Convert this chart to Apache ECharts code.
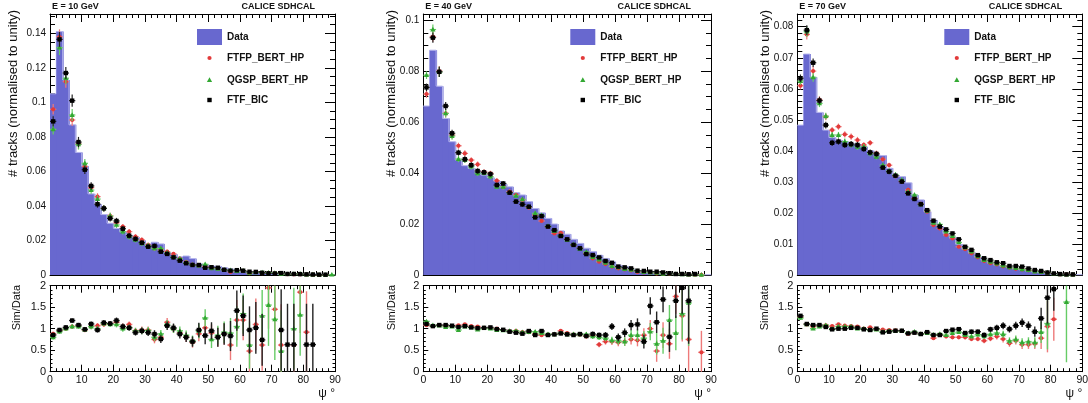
<!DOCTYPE html>
<html><head><meta charset="utf-8">
<script src="https://cdn.jsdelivr.net/npm/echarts@6/dist/echarts.min.js"></script>
<style>html,body{margin:0;padding:0;background:#fff}#c{width:1088px;height:403px}</style>
</head><body><div id="c"></div>
<script>
// bin centres (degrees), 2-degree bins from 0 to 90
const centers = [1,3,5,7,9,11,13,15,17,19,21,23,25,27,29,31,33,35,37,39,41,43,45,47,49,51,53,55,57,59,61,63,65,67,69,71,73,75,77,79,81,83,85,87,89];

// ---------- E = 10 GeV ----------
const data10 = [0.105,0.141,0.113,0.087,0.071,0.063,0.047,0.041,0.035,0.030,
 0.027,0.025,0.023,0.022,0.020,0.018,0.019,0.018,0.013,0.012,
 0.0105,0.011,0.0095,0.0065,0.006,0.0052,0.005,0.0042,0.0035,0.002,
 0.0019,0.002,0.0015,0.0013,0.0013,0.0011,0.0008,0.0009,0.0007,0.0006,
 0.0005,0.0006,0.0004,0.0003,0.0002];
const ftfp10 = [0.096,0.138,0.112,0.0898,0.0759,0.0628,0.0506,0.0454,0.0386,0.0342,
 0.0303,0.028,0.0251,0.0222,0.0203,0.0174,0.0154,0.0145,0.0135,0.0122,
 0.0095,0.0075,0.006,0.0055,0.005,0.004,0.0038,0.003,0.0018,0.0025,
 0.0024,0.001,0.0017,0.0011,0.0012,0.001,0.0006,0.0005,0.0004,0.0004,
 0.0003,0.0002,0.0001,0,null];
const qgsp10 = [0.0844,0.1317,0.114,0.0927,0.0757,0.0647,0.0492,0.044,0.0386,0.0342,
 0.029,0.0251,0.0222,0.0203,0.0183,0.017,0.0154,0.0154,0.0128,0.0105,
 0.0095,0.0072,0.006,0.0055,0.0062,0.0038,0.0035,0.003,0.0028,0.0022,
 0.0025,0.0013,0.0015,0.0015,0.0014,0.0012,0.0005,0.0005,0.0006,0.0007,
 0.0003,0.0003,0.0002,0.0001,0.0002];
const ftf10 = [0.089,0.1365,0.117,0.101,0.077,0.061,0.0516,0.041,0.0386,0.0328,
 0.0313,0.0268,0.0228,0.0209,0.0187,0.0164,0.0168,0.0135,0.0122,0.0102,
 0.0083,0.0068,0.0058,0.0058,0.0042,0.0045,0.0042,0.003,0.0025,0.0028,
 0.0025,0.0019,0.0018,0.0013,0.001,0.0009,0.0011,0.0006,0.0006,0.0005,
 0.0004,0.0003,0.0002,0.0002,null];
const errTop10 = [0.003,0.0043,0.0035,0.0035,0.003,0.0025,0.0022,0.002,0.0018,0.0018,
 0.0018,0.0016,0.0016,0.0015,0.0015,0.0014,0.0014,0.0013,0.0012,0.0012,
 0.0011,0.001,0.001,0.0009,0.0009,0.0008,0.0008,0.0007,0.0007,0.0007,
 0.0006,0.0006,0.0005,0.0005,0.0005,0.0004,0.0004,0.0004,0.0004,0.0003,
 0.0003,0.0003,0.0003,0.0002,0.0002];
const rFtfp10 = [0.88,0.95,1.0,1.05,1.06,0.97,1.05,1.07,1.1,1.12,
 1.15,1.05,1.1,0.95,0.97,0.97,0.75,0.8,1.15,1.0,
 0.9,0.8,0.68,0.88,1.02,0.9,0.8,0.88,0.62,1.2,
 1.2,0.48,1.1,0.62,1.95,1.45,0.62,null,0.62,1.85,
 0.92,null,null,null,null];
const rQgsp10 = [0.8,0.93,1.0,1.05,1.05,0.98,1.05,1.0,1.12,1.1,
 1.1,1.0,1.03,0.95,0.95,0.96,0.8,0.88,1.1,1.0,
 0.95,0.85,0.72,0.95,1.25,0.75,0.85,0.92,0.9,1.05,
 1.35,0.62,null,1.3,1.55,1.22,0.48,null,1.0,1.32,
 null,null,null,null,null];
const rFtf10 = [0.853,0.97,1.03,1.19,1.085,0.985,1.11,0.97,1.14,1.12,
 1.19,1.05,1.02,0.91,0.95,0.91,0.875,0.76,1.07,1.02,
 0.875,0.8,0.7,0.97,0.84,0.95,0.8,0.875,0.83,1.42,
 1.3,0.97,1.02,0.74,null,null,0.97,0.63,0.63,null,
 0.63,0.63,null,null,null];
const rErr10 = [0.05,0.05,0.05,0.05,0.05,0.05,0.06,0.06,0.06,0.06,
 0.07,0.07,0.07,0.07,0.08,0.08,0.09,0.09,0.1,0.1,
 0.1,0.11,0.12,0.17,0.2,0.2,0.22,0.25,0.35,0.47,
 0.47,0.55,0.6,0.6,0.95,0.95,0.95,0.95,0.95,0.95,
 0.95,0.95,0.95,0.95,0.95];

// ---------- E = 40 GeV ----------
const data40 = [0.0663,0.0882,0.0741,0.0614,0.0523,0.0451,0.0429,0.0418,0.0405,0.0392,
 0.0382,0.0369,0.0356,0.0346,0.0323,0.0314,0.0288,0.0261,0.0244,0.0222,
 0.02,0.0173,0.016,0.014,0.0124,0.0105,0.0092,0.0078,0.0065,0.0052,
 0.0039,0.0033,0.0022,0.0018,0.0014,0.0011,0.0009,0.0007,0.0005,0.0004,
 0.0003,0.0002,0.00015,0.0001,0.0001];
const ftfp40 = [0.071,0.0935,0.08,0.0634,0.0549,0.0507,0.0477,0.0451,0.0434,0.0405,
 0.0399,0.037,0.0346,0.0327,0.0314,0.0294,0.0265,0.0235,0.0212,0.019,
 0.0163,0.0165,0.014,0.0118,0.0105,0.0085,0.0065,0.0052,0.0043,0.0033,
 0.0026,0.0022,0.0018,0.0012,0.001,0.001,0.0006,0.0005,0.0005,0.0004,
 0.0004,0.0002,0.0001,0.0001,null];
const qgsp40 = [0.0784,0.0963,0.0797,0.0634,0.0545,0.0455,0.0451,0.0425,0.0399,0.04,
 0.0386,0.0346,0.0346,0.0323,0.0311,0.0297,0.0268,0.0242,0.0235,0.0192,
 0.0172,0.0155,0.0138,0.012,0.0103,0.009,0.007,0.006,0.0048,0.0035,
 0.003,0.0023,0.002,0.0015,0.0011,0.0009,0.0008,0.0005,0.0006,0.0004,
 0.0003,0.0002,0.0002,0.0001,null];
const ftf40 = [0.0736,0.0931,0.0797,0.0663,0.0556,0.048,0.0454,0.0431,0.0408,0.0403,
 0.0396,0.0353,0.0359,0.0323,0.0288,0.0277,0.0268,0.0226,0.0231,0.019,
 0.0176,0.0153,0.014,0.0118,0.0105,0.0082,0.0078,0.0069,0.0055,0.0048,
 0.0033,0.003,0.0026,0.0017,0.0016,0.0013,0.0013,0.001,0.0007,0.0004,
 0.0004,0.0003,0.0004,null,null];
const errTop40 = [0.0015,0.002,0.002,0.0016,0.0014,0.0012,0.0012,0.0011,0.0011,0.001,
 0.001,0.001,0.001,0.0009,0.0009,0.0009,0.0008,0.0008,0.0008,0.0007,
 0.0007,0.0006,0.0006,0.0006,0.0005,0.0005,0.0005,0.0004,0.0004,0.0004,
 0.0003,0.0003,0.0003,0.0003,0.0002,0.0002,0.0002,0.0002,0.0002,0.0002,
 0.0001,0.0001,0.0001,0.0001,0.0001];
const rFtfp40 = [1.08,1.06,1.08,1.06,1.06,1.08,1.1,1.06,1.05,1.02,
 1.02,1.0,0.97,0.94,0.95,0.92,0.92,0.88,0.85,0.86,
 0.87,0.95,0.9,0.86,0.86,0.82,0.84,0.63,0.7,0.7,
 0.68,0.7,0.75,0.73,0.85,1.0,0.48,0.85,0.65,1.75,
 1.3,0.75,null,0.45,null];
const rQgsp40 = [1.17,1.08,1.07,1.04,1.05,0.97,1.05,1.03,0.98,1.02,
 1.0,0.97,0.96,0.95,0.95,0.92,0.92,0.93,0.9,0.87,
 0.87,0.9,0.87,0.87,0.87,0.87,0.82,0.8,0.78,0.73,
 0.72,0.7,0.85,0.85,0.78,0.93,0.65,0.72,1.2,0.9,
 1.35,1.6,null,null,null];
const rFtf40 = [1.11,1.06,1.085,1.085,1.07,1.04,1.06,1.03,1.015,1.02,
 1.03,0.99,0.975,0.93,0.907,0.884,0.946,0.853,0.946,0.853,
 0.868,0.89,0.868,0.853,0.876,0.83,0.876,0.853,0.853,1.05,
 0.8,0.907,1.085,1.1,0.7,1.53,1.15,1.68,0.81,1.65,
 1.95,1.65,null,null,null];
const rErr40 = [0.03,0.03,0.03,0.03,0.03,0.03,0.03,0.03,0.03,0.03,
 0.03,0.03,0.03,0.03,0.03,0.03,0.03,0.035,0.035,0.04,
 0.04,0.04,0.045,0.045,0.05,0.05,0.06,0.06,0.07,0.08,
 0.09,0.1,0.12,0.14,0.16,0.2,0.25,0.3,0.35,0.4,
 0.6,1.0,0.9,0.5,0.9];

// ---------- E = 70 GeV ----------
const data70 = [0.0483,0.0712,0.0637,0.0524,0.0467,0.0443,0.0435,0.043,0.0424,0.0421,
 0.0413,0.04,0.0387,0.0385,0.0344,0.0322,0.0317,0.0297,0.0258,0.0242,
 0.0204,0.0177,0.0156,0.0134,0.0121,0.0099,0.0083,0.0073,0.0059,0.0048,
 0.004,0.0032,0.0028,0.0024,0.002,0.0017,0.0013,0.001,0.0008,0.0006,
 0.0004,0.0003,0.0002,0.0001,0.0001];
const ftfp70 = [0.061,0.0775,0.0657,0.0564,0.051,0.0467,0.0478,0.0453,0.0446,0.0435,
 0.0419,0.0426,0.0392,0.0373,0.0354,0.0319,0.0301,0.0274,0.0247,0.0229,
 0.0204,0.0161,0.015,0.0129,0.0118,0.0091,0.0083,0.007,0.0057,0.0045,
 0.0038,0.0034,0.0028,0.0024,0.002,0.0018,0.0015,0.0012,0.0009,0.0007,
 0.0004,0.0002,0.0002,0.0001,null];
const qgsp70 = [0.0625,0.0784,0.0637,0.0553,0.0512,0.0451,0.0451,0.043,0.042,0.0413,
 0.0413,0.0392,0.0381,0.0354,0.0335,0.0323,0.0306,0.0268,0.0258,0.0228,
 0.0207,0.0168,0.0163,0.014,0.0125,0.0105,0.0088,0.0075,0.006,0.0048,
 0.0042,0.0037,0.003,0.0025,0.0022,0.0018,0.0016,0.0011,0.0009,0.0008,
 0.0004,0.0002,0.0001,0.0001,null];
const ftf70 = [0.0634,0.0789,0.0684,0.0562,0.0483,0.0426,0.043,0.0419,0.0422,0.0419,
 0.0406,0.0395,0.039,0.0346,0.0333,0.032,0.0301,0.0263,0.0245,0.0228,
 0.0209,0.0175,0.0156,0.0147,0.0134,0.0115,0.0091,0.0081,0.0064,0.0054,
 0.0048,0.0041,0.0038,0.0029,0.0029,0.0027,0.0021,0.0016,0.0013,0.0008,
 0.0005,0.0003,0.0002,0.0002,null];
const errTop70 = [0.0012,0.0016,0.0014,0.0012,0.0011,0.001,0.001,0.001,0.001,0.001,
 0.0009,0.0009,0.0009,0.0008,0.0008,0.0008,0.0008,0.0007,0.0007,0.0007,
 0.0006,0.0006,0.0006,0.0005,0.0005,0.0005,0.0004,0.0004,0.0004,0.0003,
 0.0003,0.0003,0.0003,0.0002,0.0002,0.0002,0.0002,0.0002,0.0002,0.0001,
 0.0001,0.0001,0.0001,0.0001,0.0001];
const rFtfp70 = [1.27,1.1,1.05,1.06,1.08,1.06,1.1,1.07,1.06,1.05,
 1.0,1.03,0.99,0.98,0.97,0.96,0.95,0.88,0.91,0.88,
 0.9,0.78,0.86,0.82,0.8,0.8,0.8,0.76,0.76,0.72,
 0.77,0.82,0.76,0.66,0.72,0.63,0.63,0.65,0.78,1.05,
 1.22,null,null,null,null];
const rQgsp70 = [1.25,1.1,1.0,1.05,1.08,1.0,1.05,1.05,1.05,1.0,
 1.0,0.97,0.98,0.93,0.95,0.95,0.95,0.9,0.93,0.88,
 0.9,0.86,0.88,0.85,0.9,0.92,0.85,0.82,0.86,0.82,
 0.87,0.9,0.87,0.72,0.75,0.68,0.7,0.68,0.92,1.12,
 null,null,1.62,null,null];
const rFtf70 = [1.3,1.11,1.085,1.085,1.04,0.985,1.0,1.0,1.02,1.02,
 0.985,0.97,1.0,0.915,0.93,0.953,0.953,0.89,0.907,0.876,
 0.92,0.853,0.853,0.946,0.977,0.99,0.9,0.93,0.93,0.853,
 0.985,1.02,1.07,0.99,1.07,1.14,1.07,0.93,1.24,1.72,
 1.92,null,null,null,null];
const rErr70 = [0.04,0.03,0.03,0.03,0.03,0.03,0.03,0.03,0.03,0.03,
 0.03,0.03,0.03,0.03,0.03,0.03,0.03,0.03,0.03,0.03,
 0.03,0.035,0.035,0.04,0.04,0.04,0.045,0.05,0.05,0.06,
 0.06,0.07,0.08,0.08,0.09,0.1,0.1,0.12,0.25,0.6,
 0.5,0.6,1.4,0.8,0.8];

// ---------- labels ----------
const energyLabels = ['E = 10 GeV', 'E = 40 GeV', 'E = 70 GeV'];
const experimentLabel = 'CALICE SDHCAL';
const legendNames = ['Data', 'FTFP_BERT_HP', 'QGSP_BERT_HP', 'FTF_BIC'];
const yTitleTop = '# tracks (normalised to unity)';
const yTitleRatio = 'Sim/Data';
const xTitle = 'ψ °';

// ---------- layout / style ----------
const FONT = "'Liberation Sans', Arial, Helvetica, sans-serif";
const COL = { data: '#6868cf', dataEdge: '#b4b4ec', red: '#e23a3a', redErr: '#ee7a7a',
  green: '#33a833', greenErr: '#66cc66', black: '#000000', blackErr: '#222222' };
const panels = [
  { left: 50, width: 285, ymax: 0.1512, yint: 0.02, ysplit: 4, titleX: 13, ratioTitleX: 16.7,
    data: data10, sims: [ftfp10, qgsp10, ftf10], err: errTop10, ratios: [rFtfp10, rQgsp10, rFtf10], rerr: rErr10 },
  { left: 423.3, width: 287.7, ymax: 0.1024, yint: 0.02, ysplit: 4, titleX: 391.7, ratioTitleX: 391.7,
    data: data40, sims: [ftfp40, qgsp40, ftf40], err: errTop40, ratios: [rFtfp40, rQgsp40, rFtf40], rerr: rErr40 },
  { left: 797.3, width: 285, ymax: 0.0841, yint: 0.01, ysplit: 5, titleX: 765, ratioTitleX: 765,
    data: data70, sims: [ftfp70, qgsp70, ftf70], err: errTop70, ratios: [rFtfp70, rQgsp70, rFtf70], rerr: rErr70 }
];
const TOP_Y = 14, TOP_H = 261, RAT_Y = 285.7, RAT_H = 86;
const markerShapes = ['circle', 'triangle', 'square'];
const markerCols = [COL.red, COL.green, COL.black];
const errCols = [COL.redErr, COL.greenErr, COL.blackErr];

function histRender(params, api) {
  const lo = api.value(0), hi = api.value(1), v = api.value(2), vn = api.value(3);
  const a = api.coord([lo, v]), b = api.coord([hi, 0]), c = api.coord([hi, vn]);
  const right = params.coordSys.x + params.coordSys.width;
  return { type: 'group', children: [
    { type: 'rect', shape: { x: a[0], y: a[1], width: Math.min(right, b[0] + 1) - a[0], height: b[1] - a[1] },
      style: { fill: COL.data } },
    { type: 'polyline', shape: { points: [[a[0], a[1]], [b[0], a[1]], [b[0], c[1]]] },
      style: { stroke: COL.dataEdge, lineWidth: 1, fill: null } }
  ]};
}

function pointRender(shape, color, ecol, lw, hw) {
  return function (params, api) {
    const x = api.value(0), v = api.value(1), e = api.value(2);
    const cs = params.coordSys;
    const top = cs.y, bot = cs.y + cs.height, left = cs.x, right = cs.x + cs.width;
    const c = api.coord([x, v]);
    const ct = api.coord([x, v + e]), cb = api.coord([x, v - e]);
    const cl = api.coord([x - hw, v]), cr = api.coord([x + hw, v]);
    const cy = y => Math.max(top, Math.min(bot, y));
    const ch = [];
    const y1 = cy(ct[1]), y2 = cy(cb[1]);
    if (y2 - y1 > 0.3) ch.push({ type: 'line', shape: { x1: c[0], y1: y1, x2: c[0], y2: y2 }, style: { stroke: ecol, lineWidth: lw } });
    if (c[1] >= top - 0.5 && c[1] <= bot + 0.5) {
      ch.push({ type: 'line', shape: { x1: Math.max(left, cl[0]), y1: c[1], x2: Math.min(right, cr[0]), y2: c[1] }, style: { stroke: ecol, lineWidth: lw } });
      const X = c[0], Y = c[1];
      if (shape === 'circle') ch.push({ type: 'circle', shape: { cx: X, cy: Y, r: 2.1 }, style: { fill: color } });
      else if (shape === 'triangle') ch.push({ type: 'polygon', shape: { points: [[X, Y - 2.7], [X - 2.6, Y + 1.9], [X + 2.6, Y + 1.9]] }, style: { fill: color } });
      else ch.push({ type: 'rect', shape: { x: X - 2.2, y: Y - 2.2, width: 4.4, height: 4.4 }, style: { fill: color } });
    }
    return { type: 'group', children: ch };
  };
}

const grid = [], xAxis = [], yAxis = [], series = [], graphic = [];
function axisCommon(gi) {
  return { gridIndex: gi, type: 'value', splitLine: { show: false }, minorSplitLine: { show: false },
    axisLine: { show: true, onZero: false, lineStyle: { color: '#000', width: 1 } } };
}
panels.forEach((p, pi) => {
  const gTop = 2 * pi, gRat = 2 * pi + 1;
  grid.push({ left: p.left, top: TOP_Y, width: p.width, height: TOP_H, containLabel: false, outerBoundsMode: 'none' });
  grid.push({ left: p.left, top: RAT_Y, width: p.width, height: RAT_H, containLabel: false, outerBoundsMode: 'none' });
  // x axes
  [[gTop, 8, 4, false], [gRat, 7, 3.5, true]].forEach(([gi, mj, mn, lab]) => {
    ['bottom', 'top'].forEach(pos => {
      xAxis.push(Object.assign(axisCommon(gi), { position: pos, min: 0, max: 90, interval: 10,
        axisTick: { show: true, inside: true, length: mj, lineStyle: { color: '#000' } },
        minorTick: { show: true, splitNumber: 5, length: mn, lineStyle: { color: '#000' } },
        axisLabel: { show: lab && pos === 'bottom', fontSize: 10.5, color: '#111', margin: 3, fontFamily: FONT } }));
    });
  });
  // y axes
  ['left', 'right'].forEach(pos => {
    yAxis.push(Object.assign(axisCommon(gTop), { position: pos, min: 0, max: p.ymax, interval: p.yint,
      axisTick: { show: true, inside: true, length: 10, lineStyle: { color: '#000' } },
      minorTick: { show: true, splitNumber: p.ysplit, length: 5, lineStyle: { color: '#000' } },
      axisLabel: { show: pos === 'left', fontSize: 10, color: '#111', margin: 4, fontFamily: FONT, showMaxLabel: false } }));
  });
  ['left', 'right'].forEach(pos => {
    yAxis.push(Object.assign(axisCommon(gRat), { position: pos, min: 0, max: 2, interval: 0.5,
      axisTick: { show: true, inside: true, length: 5, lineStyle: { color: '#000' } },
      minorTick: { show: true, splitNumber: 5, length: 2.5, lineStyle: { color: '#000' } },
      axisLabel: { show: pos === 'left', fontSize: 11, color: '#111', margin: 4, fontFamily: FONT } }));
  });
  const xTopIdx = 4 * pi, xRatIdx = 4 * pi + 2, yTopIdx = 4 * pi, yRatIdx = 4 * pi + 2;
  // histogram
  series.push({ type: 'custom', coordinateSystem: 'cartesian2d', xAxisIndex: xTopIdx, yAxisIndex: yTopIdx,
    renderItem: histRender, encode: { x: [0, 1], y: 2 }, z: 1,
    data: centers.map((c, i) => [c - 1, c + 1, p.data[i], i + 1 < centers.length ? p.data[i + 1] : 0]) });
  // simulation points (top) and ratios (bottom)
  for (let k = 0; k < 3; k++) {
    series.push({ type: 'custom', coordinateSystem: 'cartesian2d', xAxisIndex: xTopIdx, yAxisIndex: yTopIdx, z: 2 + k,
      renderItem: pointRender(markerShapes[k], markerCols[k], errCols[k], 1.2, 1), encode: { x: 0, y: 1 },
      data: centers.map((c, i) => p.sims[k][i] == null ? null : [c, p.sims[k][i], p.err[i]]).filter(Boolean) });
    series.push({ type: 'custom', coordinateSystem: 'cartesian2d', xAxisIndex: xRatIdx, yAxisIndex: yRatIdx, z: 2 + k,
      renderItem: pointRender(markerShapes[k], markerCols[k], errCols[k], 1.4, 1), encode: { x: 0, y: 1 },
      data: centers.map((c, i) => p.ratios[k][i] == null ? null : [c, p.ratios[k][i], p.rerr[i]]).filter(Boolean) });
  }
  // texts
  const L = p.left, R = p.left + p.width;
  graphic.push({ type: 'text', x: L + 2, y: 6.5, style: { text: energyLabels[pi], font: 'bold 9px ' + FONT, fill: '#111', align: 'left', verticalAlign: 'middle' } });
  graphic.push({ type: 'text', x: R - 20, y: 6.5, style: { text: experimentLabel, font: 'bold 9px ' + FONT, fill: '#111', align: 'right', verticalAlign: 'middle' } });
  graphic.push({ type: 'text', x: p.titleX, y: 10, rotation: Math.PI / 2, style: { text: yTitleTop, font: '13px ' + FONT, fill: '#111', align: 'right', verticalAlign: 'middle' } });
  graphic.push({ type: 'text', x: p.ratioTitleX, y: 285, rotation: Math.PI / 2, style: { text: yTitleRatio, font: '11px ' + FONT, fill: '#111', align: 'right', verticalAlign: 'middle' } });
  graphic.push({ type: 'text', x: R, y: 394, style: { text: xTitle, font: '12px ' + FONT, fill: '#111', align: 'right', verticalAlign: 'middle' } });
  // legend
  const mx = L + 159.5, tx = L + 177;
  graphic.push({ type: 'rect', shape: { x: L + 147, y: 29, width: 25, height: 16 }, style: { fill: COL.data } });
  const ly = [37, 58, 80, 100];
  legendNames.forEach((n, j) => graphic.push({ type: 'text', x: tx, y: ly[j], style: { text: n, font: 'bold 10px ' + FONT, fill: '#111', align: 'left', verticalAlign: 'middle' } }));
  graphic.push({ type: 'circle', shape: { cx: mx, cy: ly[1], r: 2.1 }, style: { fill: COL.red } });
  graphic.push({ type: 'polygon', shape: { points: [[mx, ly[2] - 2.7], [mx - 2.6, ly[2] + 1.9], [mx + 2.6, ly[2] + 1.9]] }, style: { fill: COL.green } });
  graphic.push({ type: 'rect', shape: { x: mx - 2.2, y: ly[3] - 2.2, width: 4.4, height: 4.4 }, style: { fill: COL.black } });
});

const chart = echarts.init(document.getElementById('c'), null, { renderer: 'canvas', width: 1088, height: 403 });
chart.setOption({ animation: false, backgroundColor: '#fff', textStyle: { fontFamily: FONT },
  grid, xAxis, yAxis, series, graphic });
</script></body></html>
